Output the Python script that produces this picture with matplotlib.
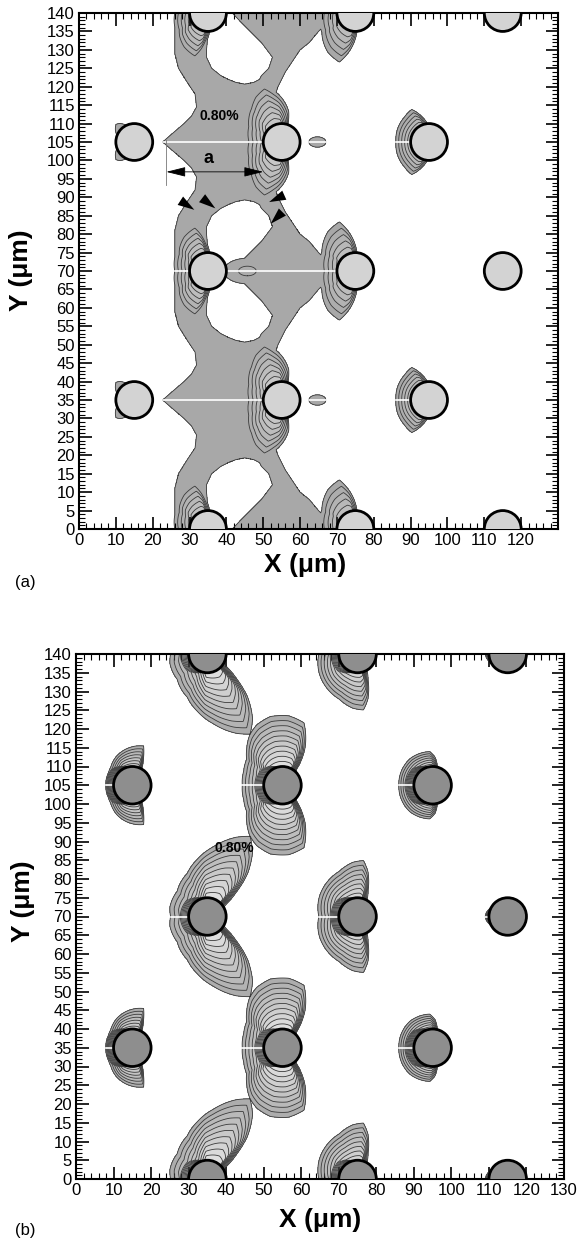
import numpy as np
import matplotlib
matplotlib.use('Agg')
import matplotlib.pyplot as plt
from matplotlib.patches import Circle
from matplotlib.ticker import MultipleLocator

plt.rcParams['font.family'] = ['Liberation Sans', 'DejaVu Sans']

# particle centres (um)
part_x = [15, 55, 95, 35, 75, 115, 15, 55, 95, 35, 75, 115, 35, 75, 115]
part_y = [105, 105, 105, 70, 70, 70, 35, 35, 35, 0, 0, 0, 140, 140, 140]
part_r = 5.0

# extent of the strain lobe beyond the particle surface (um)
# against polar angle (deg, 0 = +x), one profile per particle column
# --- case (a)
a15_ang = [0, 115, 128, 136, 146, 160, 180]
a15_ext = [0, 0, 1.4, 1.9, 1.2, 0, 0]
a35_ang = [0, 85, 95, 107, 125, 150, 180]
a35_ext = [0, 0, 3.5, 8.6, 7.5, 5.0, 4.0]
a55_ang = [0, 70, 77, 90, 100, 108, 120, 132, 155, 180]
a55_ext = [0, 0, 3.5, 7.0, 9.5, 11.8, 10.5, 8.4, 6.0, 5.0]
a75_ang = [0, 85, 95, 108, 125, 150, 180]
a75_ext = [0, 0, 4.0, 9.0, 8.0, 5.5, 4.6]
a95_ang = [0, 95, 105, 118, 135, 180]
a95_ext = [0, 0, 2.0, 5.0, 4.5, 4.0]
a_rings = {15: 1, 35: 6, 55: 7, 75: 5, 95: 5}
a_floor = {15: 1.5, 35: 6.0, 55: 8.0, 75: 6.0, 95: 3.5}

# --- case (b)
b15_ang = [0, 60, 68, 74, 85, 100, 117, 140, 180]
b15_ext = [0, 0, 3.0, 5.9, 5.5, 4.8, 3.9, 2.5, 1.5]
b35_ang = [0, 30, 34, 40, 47, 55, 62, 70, 85, 100, 115, 140, 166, 180]
b35_ext = [0, 0, 1.4, 5.0, 10.7, 16.0, 19.2, 17.5, 13.7, 10.5, 7.7, 5.5, 5.3, 4.8]
b55_ang = [0, 40, 48, 59, 71, 85, 100, 113, 123, 135, 144, 160, 180]
b55_ext = [0, 0, 0.5, 6.7, 12.6, 13.6, 13.6, 12.5, 11.0, 8.5, 6.8, 6.0, 5.7]
b75_ang = [0, 60, 68, 77, 84, 95, 112, 154, 180]
b75_ext = [0, 0, 2.5, 7.3, 10.0, 9.5, 8.0, 6.4, 5.3]
b95_ang = [0, 75, 85, 95, 130, 180]
b95_ext = [0, 0, 2.5, 4.0, 4.3, 4.0]
b115_ang = [0, 150, 170, 180]
b115_ext = [0, 0, 0.8, 1.0]
b_rings = {15: 7, 35: 10, 55: 10, 75: 8, 95: 7, 115: 4}
b_floor = {15: 4.0, 35: 12.0, 55: 9.0, 75: 7.0, 95: 3.5, 115: 0.8}

# thin layer of steep gradient on the left face of the particles in (b)
layer_ang = [0, 105, 140, 180]
layer_ext = [0, 0, 2.0, 2.5]
layer_rings = 6

# band of strain > 0.80 % in case (a), quarter period y = 70..105
band_ly = [70, 75, 81, 85, 89, 92, 95.5, 98, 100, 103, 105]
band_lx = [26, 26, 26, 27, 29.5, 31.5, 31.9, 30.5, 28.5, 25, 22.7]
band_ry = [70, 72, 75, 78, 80, 83, 86, 90, 93, 97, 100, 105]
band_rx = [70, 68, 65, 62.5, 60, 58, 56, 54, 53, 52.5, 51.5, 51]
hole_y = [70, 72, 74, 75, 77, 78, 80, 82, 85, 87, 88, 88.8, 89.3]
hole_lx = [36, 36, 36, 35, 34.8, 34.8, 34.6, 34.6, 36, 38.5, 40.5, 42.5, 45]
hole_rx = [41.6, 43.5, 45.5, 46.5, 48.5, 49.5, 51, 52.5, 51.5, 49.5, 49, 47.5, 45]

# small isolated islands in case (a)
isl_x = [64.7, 64.7, 45.7]
isl_y = [105, 35, 70]
isl_ax = [2.3, 2.3, 2.4]
isl_ay = [1.4, 1.4, 1.3]
isl_lev = [1.0, 1.0, 1.5]

xg = np.linspace(0, 130, 1301)
yg = np.linspace(0, 140, 1401)
X, Y = np.meshgrid(xg, yg)
step = 0.5


def lobes(profiles, rings, floor, layer=False):
    F = np.full(X.shape, -1.0)
    for cx, cy in zip(part_x, part_y):
        if cx not in profiles:
            continue
        ang, ext = profiles[cx]
        rho = np.hypot(X - cx, Y - cy)
        th = np.degrees(np.abs(np.arctan2(Y - cy, X - cx)))
        E = np.interp(th, ang, ext)
        d = rho - part_r
        # ring spacing E/n, never tighter than floor/n so the rings wrap round
        f = 1 + rings[cx] * step * (E - d) / np.maximum(E, floor[cx])
        if layer and rings[cx] > 4:
            E2 = np.interp(th, layer_ang, layer_ext)
            f = f + layer_rings * step * np.clip(1 - d / np.maximum(E2, 1e-3), 0, None) * (E2 > 0)
        F = np.maximum(F, f)
    return F


# case (a): band + lobes + islands
yf = np.where(Y >= 70, Y, 140 - Y)
yf = np.where(yf <= 105, yf, 210 - yf)
xl = np.interp(yf, band_ly, band_lx)
xr = np.interp(yf, band_ry, band_rx)
hl = np.interp(yf, hole_y, hole_lx)
hr = np.interp(yf, hole_y, hole_rx)
hole = np.maximum(np.maximum(hl - X, X - hr), 3 * (yf - hole_y[-1]))
B = np.minimum(np.minimum(X - xl, xr - X), hole)
Fa = 1 + np.clip(B, -0.5, 0.3)
Fa = np.maximum(Fa, lobes({15: (a15_ang, a15_ext), 35: (a35_ang, a35_ext),
                           55: (a55_ang, a55_ext), 75: (a75_ang, a75_ext),
                           95: (a95_ang, a95_ext)}, a_rings, a_floor))
for bx, by, sx, sy, lv in zip(isl_x, isl_y, isl_ax, isl_ay, isl_lev):
    d = np.hypot((X - bx) / sx, (Y - by) / sy)
    Fa = np.maximum(Fa, lv + 0.3 * (1 - d))

Fb = lobes({15: (b15_ang, b15_ext), 35: (b35_ang, b35_ext), 55: (b55_ang, b55_ext),
            75: (b75_ang, b75_ext), 95: (b95_ang, b95_ext), 115: (b115_ang, b115_ext)},
           b_rings, b_floor, layer=True)

levels = np.arange(1.0, 1.0 + 17 * step + 0.01, step)
fill_levels = list(levels) + [1e6]


def ramp(g0, g1, n):
    g = np.clip(np.linspace(g0, g1, n), 0, 1)
    return [(v, v, v) for v in g]


fig = plt.figure(figsize=(5.79, 12.45), dpi=100)
ax_a = fig.add_axes([79 / 579, 1 - 529 / 1245, 479 / 579, 516 / 1245])
ax_b = fig.add_axes([76 / 579, 1 - 1179 / 1245, 488 / 579, 525 / 1245])

panels = [(ax_a, Fa, '#d3d3d3', ramp(0.66, 1.0, len(fill_levels) - 1)),
          (ax_b, Fb, '#8e8e8e', ramp(0.68, 1.05, len(fill_levels) - 1))]

for ax, F, pcol, fcols in panels:
    ax.contourf(xg, yg, F, levels=fill_levels, colors=fcols, zorder=1)
    ax.contour(xg, yg, F, levels=levels, colors='#3a3a3a', linewidths=0.6, zorder=2)
    # white symmetry lines through the shaded zones on the particle rows
    for yr in [35, 70, 105]:
        j = np.argmin(np.abs(yg - yr))
        on = np.concatenate([[0], (F[j] >= 1).astype(int), [0]])
        dd = np.diff(on)
        for i0, i1 in zip(np.flatnonzero(dd == 1), np.flatnonzero(dd == -1)):
            ax.plot([xg[i0], xg[i1 - 1]], [yr, yr], color='white', lw=1.2, zorder=3)
    for cx, cy in zip(part_x, part_y):
        ax.add_patch(Circle((cx, cy), part_r, facecolor=pcol, edgecolor='black',
                            lw=2.0, zorder=5))
    ax.set_xlim(0, 130)
    ax.set_ylim(0, 140)
    ax.xaxis.set_major_locator(MultipleLocator(10))
    ax.xaxis.set_minor_locator(MultipleLocator(2))
    ax.yaxis.set_major_locator(MultipleLocator(5))
    ax.yaxis.set_minor_locator(MultipleLocator(1))
    ax.tick_params(which='both', direction='in', top=True, right=True, labelsize=12)
    ax.tick_params(which='major', length=9, width=1.2, pad=3)
    ax.tick_params(which='minor', length=4.5, width=0.8)
    for s in ax.spines.values():
        s.set_linewidth(1.5)
    ax.set_xlabel('X (μm)', fontsize=19, fontweight='bold')
    ax.set_ylabel('Y (μm)', fontsize=19, fontweight='bold')

ax_a.set_xticks(np.arange(0, 131, 10))
ax_a.set_xticklabels([str(v) for v in range(0, 130, 10)] + [''])
ax_a.xaxis.set_label_coords(0.472, -0.046)
ax_a.yaxis.set_label_coords(-0.095, 0.502)
ax_b.xaxis.set_label_coords(0.5, -0.056)
ax_b.yaxis.set_label_coords(-0.083, 0.53)

# annotations of case (a)
ax_a.text(38.2, 112.1, '0.80%', fontsize=10, fontweight='bold', ha='center', va='center', zorder=6)
ax_b.text(42.1, 88.3, '0.80%', fontsize=10, fontweight='bold', ha='center', va='center', zorder=6)

dim_y = 96.9
dim_x0, dim_x1 = 23.7, 50.0
ax_a.plot([dim_x0, dim_x0], [93.3, 105.5], color='#777777', lw=0.6, zorder=4)
ax_a.annotate('', xy=(dim_x0, dim_y), xytext=(dim_x1, dim_y), zorder=6,
              arrowprops=dict(arrowstyle='<|-|>,head_length=1.0,head_width=0.25',
                              color='black', lw=0.6, mutation_scale=12, shrinkA=0, shrinkB=0))
ax_a.text(35.2, 100.5, 'a', fontsize=13, fontweight='bold', ha='center', va='center', zorder=6)

wedge_tail = [(27.3, 89.2), (33.6, 89.6), (55.8, 90.6), (55.2, 86.0)]
wedge_tip = [(31.3, 86.6), (37.0, 87.0), (51.6, 88.7), (52.0, 82.8)]
for (tx, ty), (hx, hy) in zip(wedge_tail, wedge_tip):
    ax_a.annotate('', xy=(hx, hy), xytext=(tx, ty), zorder=6,
                  arrowprops=dict(arrowstyle='-|>,head_length=1.0,head_width=0.3',
                                  color='black', lw=0, mutation_scale=12, shrinkA=0, shrinkB=0))

fig.text(25 / 579, 1 - 583 / 1245, '(a)', fontsize=12, ha='center', va='center')
fig.text(25 / 579, 1 - 1230 / 1245, '(b)', fontsize=12, ha='center', va='center')

fig.savefig('out.png', dpi=100)
